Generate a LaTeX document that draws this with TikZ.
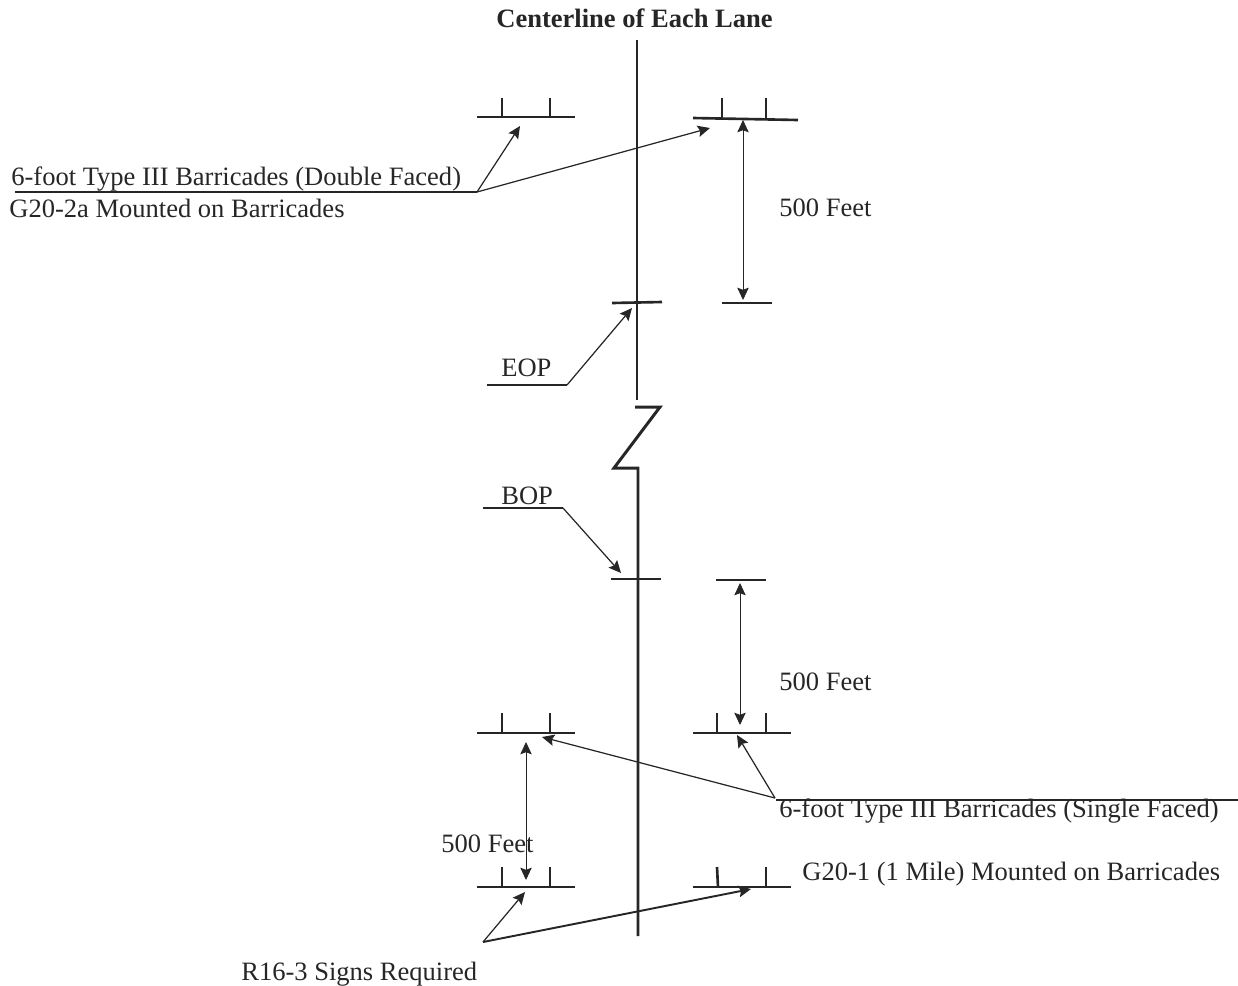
\documentclass[tikz,border=0pt]{standalone}
\usepackage{fontspec}
\setmainfont{Liberation Serif}
\usetikzlibrary{arrows.meta}
\tikzset{
    lbl/.style={inner sep=0pt,anchor=base west,color=black!85,font=\fontsize{15.1pt}{18pt}\selectfont},
    road/.style={line width=1.7pt,color=black!85},
    bar/.style={line width=1.5pt,color=black!85},
    leader/.style={line width=0.6pt,color=black!85},
    pointer/.style={line width=0.7pt,color=black!85,-{Stealth[length=7pt,width=6.5pt,inset=1.2pt]}},
    dimen/.style={line width=0.5pt,color=black!85,{Stealth[length=7pt,width=6.5pt,inset=1.2pt]}-{Stealth[length=7pt,width=6.5pt,inset=1.2pt]}}
}
\begin{document}
\begin{tikzpicture}[x=0.02cm,y=-0.02cm]
            \useasboundingbox (0,0) rectangle (1238,985);
            % centerline and break
            \draw[road] (637,40) -- (637,400);
            \draw[road] (635,407) -- (660,407) -- (614,468) -- (638,468) -- (638,936);
            \node[lbl,font=\fontsize{15.1pt}{18pt}\selectfont\bfseries] (title) at (496,27) {Centerline of Each Lane};

            % barricades
            \draw[bar] (477,117) -- (575,117); \draw[bar] (502,98) -- (502,117); \draw[bar] (550,98) -- (550,117);
            \draw[bar] (693,118) -- (798,120); \draw[bar] (722,98) -- (722,118); \draw[bar] (766,98) -- (766,119);
            \draw[bar] (477,733) -- (575,733); \draw[bar] (502,713) -- (502,733); \draw[bar] (550,713) -- (550,733);
            \draw[bar] (693,733) -- (791,733); \draw[bar] (717,713) -- (717,733); \draw[bar] (766,713) -- (766,733);
            \draw[bar] (477,887) -- (575,887); \draw[bar] (502,867) -- (502,887); \draw[bar] (550,867) -- (550,887);
            \draw[bar] (693,887) -- (791,887); \draw[bar] (717,867) -- (718,887); \draw[bar] (766,867) -- (766,887);

            % EOP and BOP ticks
            \draw[bar] (612,303) -- (662,302); \draw[bar] (722,303) -- (772,303);
            \draw[bar] (611,579) -- (661,579); \draw[bar] (716,580) -- (766,580);

            % double faced callout
            \node[lbl] (dbltop) at (11,185) {6-foot Type III Barricades (Double Faced)};
            \node[lbl] (dblbot) at (9,217) {G20-2a Mounted on Barricades};
            \coordinate (dblstart) at (15,192); \coordinate (dblfork) at (477,192);
            \coordinate (dblleft) at (520,126); \coordinate (dblright) at (710,128);
            \draw[leader] (dblstart) -- (dblfork);
            \draw[pointer] (dblfork) -- (dblleft); \draw[pointer] (dblfork) -- (dblright);

            % 500 feet, upper
            \coordinate (uptop) at (743,120); \coordinate (upbot) at (743,300);
            \draw[dimen] (uptop) -- (upbot);
            \node[lbl] (uplbl) at (779,216) {500 Feet};

            % EOP
            \node[lbl] (eoplbl) at (501,376) {EOP};
            \coordinate (eopstart) at (487,385); \coordinate (eopfork) at (567,385); \coordinate (eoptip) at (632,308);
            \draw[leader] (eopstart) -- (eopfork); \draw[pointer] (eopfork) -- (eoptip);

            % BOP
            \node[lbl] (boplbl) at (501,504) {BOP};
            \coordinate (bopstart) at (483,508); \coordinate (bopfork) at (563,508); \coordinate (boptip) at (621,573);
            \draw[leader] (bopstart) -- (bopfork); \draw[pointer] (bopfork) -- (boptip);

            % 500 feet, right
            \coordinate (rttop) at (740,583); \coordinate (rtbot) at (740,725);
            \draw[dimen] (rttop) -- (rtbot);
            \node[lbl] (rtlbl) at (779,690) {500 Feet};

            % 500 feet, left
            \coordinate (lftop) at (526,742); \coordinate (lfbot) at (526,880);
            \draw[dimen] (lftop) -- (lfbot);
            \node[lbl] (lflbl) at (441,852) {500 Feet};

            % single faced callout
            \node[lbl] (sgltop) at (779,817) {6-foot Type III Barricades (Single Faced)};
            \node[lbl] (sglbot) at (802,880) {G20-1 (1 Mile) Mounted on Barricades};
            \coordinate (sglend) at (1238,800); \coordinate (sglfork) at (775,798);
            \coordinate (sglleft) at (542,737); \coordinate (sglright) at (737,735);
            \draw[leader] (sglend) -- (776,800);
            \draw[pointer] (sglfork) -- (sglleft); \draw[pointer] (sglfork) -- (sglright);

            % R16-3 callout
            \node[lbl] (rlbl) at (241,980) {R16-3 Signs Required};
            \coordinate (rfork) at (483,942); \coordinate (rleft) at (525,892); \coordinate (rright) at (751,889);
            \draw[pointer] (rfork) -- (rleft);
            \draw[pointer,line width=1.1pt] (rfork) -- (rright);
\end{tikzpicture}
\end{document}
